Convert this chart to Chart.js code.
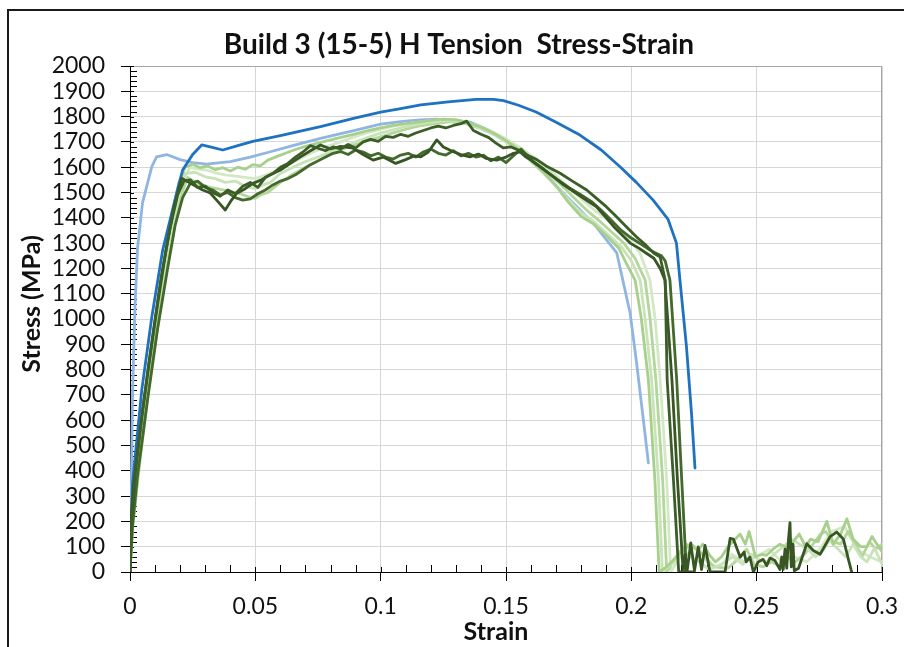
<!DOCTYPE html>
<html lang="en">
<head>
    <meta charset="UTF-8">
    <title>Build 3 (15-5) H Tension Stress-Strain</title>
    <style>
        html, body {
            margin: 0;
            padding: 0;
            background: #fff;
            overflow: hidden;
        }
        .frame {
            position: absolute;
            left: 7px;
            top: 9px;
            width: 1200px;
            height: 1200px;
            border: 2px solid #1a1a1a;
        }
        #chart {
            position: absolute;
            left: 0;
            top: 0;
        }
    </style>
    <script src="https://cdn.jsdelivr.net/npm/chart.js"></script>
</head>
<body>
    <div class="frame"></div>
    <canvas id="chart" width="904" height="647"></canvas>

    <script>
        // Axis ticks
        const strainTicks = [0, 0.05, 0.1, 0.15, 0.2, 0.25, 0.3];
        const stressTicks = [0, 100, 200, 300, 400, 500, 600, 700, 800, 900, 1000,
            1100, 1200, 1300, 1400, 1500, 1600, 1700, 1800, 1900, 2000];

        // Specimen H1 (dark blue)
        const h1Strain = [0, 0.001, 0.0047, 0.0087, 0.013, 0.0186, 0.021, 0.025, 0.0286, 0.032,
            0.037, 0.043, 0.049, 0.06, 0.076, 0.09, 0.1, 0.108, 0.116, 0.127, 0.138, 0.145,
            0.149, 0.155, 0.162, 0.17, 0.1795, 0.188, 0.1955, 0.202, 0.2087, 0.2146, 0.218,
            0.2194, 0.222, 0.224, 0.2254];
        const h1Stress = [0, 350, 720, 1008, 1270, 1498, 1589, 1650, 1688, 1680,
            1668, 1685, 1702, 1725, 1760, 1795, 1818, 1832, 1846, 1858, 1868, 1868,
            1863, 1845, 1818, 1778, 1727, 1668, 1602, 1540, 1470, 1395, 1300,
            1154, 890, 628, 411];

        // Specimen H2 (light blue)
        const h2Strain = [0, 0.0005, 0.001, 0.002, 0.003, 0.005, 0.0087, 0.0106, 0.0146, 0.02,
            0.025, 0.0306, 0.04, 0.048, 0.056, 0.066, 0.076, 0.088, 0.1, 0.108, 0.1157,
            0.1224, 0.13, 0.1356, 0.142, 0.149, 0.1596, 0.1716, 0.1849, 0.1942, 0.1995,
            0.2021, 0.2048, 0.2068];
        const h2Stress = [0, 300, 700, 1050, 1280, 1460, 1602, 1641, 1650, 1630,
            1618, 1612, 1622, 1640, 1661, 1688, 1714, 1742, 1770, 1780, 1787,
            1790, 1785, 1778, 1752, 1714, 1641, 1510, 1378, 1261, 1024,
            826, 601, 431];

        // Specimen H3 (dark green, highest peak)
        const h3Strain = [0, 0.0006, 0.002, 0.005, 0.009, 0.0125, 0.016, 0.019, 0.0215, 0.024,
            0.027, 0.03, 0.033, 0.036, 0.039, 0.042, 0.045, 0.048, 0.051, 0.054, 0.057,
            0.06, 0.063, 0.066, 0.069, 0.072, 0.075, 0.078, 0.081, 0.084, 0.087, 0.09,
            0.093, 0.096, 0.099, 0.102, 0.105, 0.108, 0.111, 0.114, 0.117, 0.12, 0.123,
            0.126, 0.129, 0.132, 0.1343, 0.137, 0.14, 0.143, 0.146, 0.149, 0.152, 0.1556,
            0.159, 0.1623, 0.166, 0.1716, 0.176, 0.1822, 0.186, 0.19, 0.194, 0.198, 0.202,
            0.206, 0.209, 0.2115, 0.2135, 0.2143, 0.2168, 0.2189, 0.2205, 0.2225, 0.2245];
        const h3Stress = [0, 180, 380, 640, 930, 1170, 1360, 1490, 1545, 1550,
            1520, 1525, 1500, 1485, 1510, 1495, 1525, 1540, 1520, 1560, 1575,
            1600, 1615, 1640, 1660, 1685, 1675, 1665, 1680, 1672, 1690, 1676,
            1700, 1710, 1702, 1722, 1718, 1730, 1722, 1735, 1745, 1755, 1762,
            1755, 1765, 1772, 1782, 1745, 1730, 1718, 1695, 1676, 1680, 1665,
            1645, 1630, 1605, 1576, 1548, 1510, 1478, 1444, 1405, 1365, 1325,
            1290, 1260, 1245, 1154, 759, 364, 0, 0, 0, 0];

        // Specimen H4 (dark green, lower plateau)
        const h4Strain = [0, 0.0005, 0.0015, 0.004, 0.0075, 0.011, 0.0145, 0.0175, 0.0206, 0.0235,
            0.0266, 0.029, 0.032, 0.035, 0.038, 0.0405, 0.0426, 0.046, 0.049, 0.052, 0.056,
            0.06, 0.064, 0.068, 0.072, 0.076, 0.08, 0.084, 0.089, 0.093, 0.097, 0.101,
            0.106, 0.11, 0.1135, 0.116, 0.119, 0.1224, 0.125, 0.129, 0.132, 0.1356, 0.139,
            0.142, 0.1463, 0.15, 0.153, 0.1556, 0.158, 0.16, 0.164, 0.169, 0.173, 0.178,
            0.182, 0.186, 0.19, 0.193, 0.1965, 0.1995, 0.203, 0.206, 0.209, 0.2115, 0.2134,
            0.2162, 0.2184, 0.2207, 0.2215, 0.2222, 0.2237, 0.2252, 0.2267, 0.228, 0.2294,
            0.2314, 0.2374, 0.2394, 0.2407, 0.2434, 0.245, 0.2458, 0.2473, 0.2487, 0.2506,
            0.2526, 0.254, 0.2553, 0.2573, 0.2593, 0.26, 0.2606, 0.2613, 0.262, 0.2627,
            0.2633, 0.2638, 0.2645, 0.265, 0.2667, 0.27, 0.2726, 0.2753, 0.2793, 0.2819,
            0.2846, 0.2866, 0.2879];
        const h4Stress = [0, 220, 350, 560, 820, 1060, 1280, 1440, 1556, 1540,
            1523, 1510, 1498, 1465, 1431, 1470, 1497, 1515, 1536, 1548, 1570,
            1589, 1615, 1641, 1665, 1688, 1672, 1682, 1675, 1650, 1628, 1640,
            1615, 1630, 1645, 1641, 1660, 1708, 1680, 1661, 1650, 1641, 1652,
            1635, 1628, 1640, 1655, 1661, 1640, 1628, 1600, 1562, 1530, 1497,
            1470, 1444, 1400, 1365, 1330, 1300, 1280, 1260, 1240, 1200, 1154,
            759, 364, 0, 70, 0, 115, 5, 99, 10, 105,
            0, 0, 133, 130, 59, 79, 40, 59, 0, 40,
            50, 25, 55, 45, 10, 60, 10, 90, 15, 130,
            195, 20, 110, 5, 15, 112, 85, 70, 140, 158,
            130, 50, 0];

        // Specimen H5 (dark green, lower plateau)
        const h5Strain = [0, 0.001, 0.003, 0.007, 0.011, 0.015, 0.018, 0.021, 0.024, 0.027,
            0.03, 0.033, 0.036, 0.039, 0.042, 0.045, 0.048, 0.051, 0.054, 0.057, 0.06,
            0.063, 0.066, 0.069, 0.072, 0.075, 0.078, 0.081, 0.084, 0.087, 0.09, 0.093,
            0.096, 0.099, 0.102, 0.105, 0.108, 0.111, 0.114, 0.117, 0.12, 0.123, 0.126,
            0.129, 0.132, 0.135, 0.138, 0.141, 0.144, 0.147, 0.15, 0.153, 0.156, 0.158,
            0.161, 0.165, 0.17, 0.175, 0.18, 0.184, 0.188, 0.192, 0.196, 0.2, 0.204,
            0.207, 0.2095, 0.212, 0.2135, 0.2154, 0.2181, 0.2201, 0.222];
        const h5Stress = [0, 180, 380, 680, 960, 1200, 1370, 1480, 1535, 1545,
            1520, 1510, 1490, 1500, 1480, 1470, 1475, 1495, 1510, 1530, 1545,
            1555, 1570, 1590, 1610, 1625, 1640, 1655, 1662, 1650, 1668, 1660,
            1645, 1655, 1640, 1632, 1648, 1655, 1640, 1660, 1672, 1655, 1648,
            1665, 1645, 1655, 1640, 1648, 1625, 1640, 1618, 1645, 1672, 1650,
            1620, 1590, 1555, 1520, 1490, 1465, 1430, 1390, 1350, 1320, 1295,
            1275, 1262, 1250, 1230, 1154, 759, 364, 0];

        // Specimen H6 (light green)
        const h6Strain = [0, 0.0006, 0.003, 0.0065, 0.0105, 0.014, 0.017, 0.0195, 0.022, 0.025,
            0.028, 0.031, 0.034, 0.037, 0.04, 0.043, 0.046, 0.049, 0.052, 0.055, 0.058,
            0.062, 0.066, 0.07, 0.075, 0.08, 0.085, 0.09, 0.095, 0.1, 0.105, 0.11,
            0.115, 0.12, 0.125, 0.13, 0.135, 0.14, 0.145, 0.15, 0.155, 0.16, 0.165,
            0.17, 0.175, 0.18, 0.185, 0.19, 0.195, 0.198, 0.2015, 0.204, 0.2068, 0.2094,
            0.2111, 0.214, 0.218, 0.2215, 0.224, 0.2265, 0.2285, 0.231, 0.2335, 0.236,
            0.2385, 0.2434, 0.2455, 0.247, 0.2495, 0.252, 0.254, 0.2565, 0.2593, 0.2625,
            0.267, 0.2695, 0.2715, 0.2745, 0.278, 0.2805, 0.2835, 0.286, 0.2885, 0.2915,
            0.294, 0.296, 0.298, 0.3];
        const h6Stress = [0, 150, 420, 720, 1000, 1250, 1420, 1540, 1600, 1612,
            1598, 1605, 1590, 1598, 1585, 1600, 1592, 1610, 1605, 1628, 1640,
            1655, 1670, 1682, 1695, 1708, 1720, 1732, 1745, 1755, 1765, 1772,
            1778, 1785, 1790, 1788, 1775, 1758, 1735, 1705, 1670, 1625, 1580,
            1525, 1460, 1405, 1375, 1330, 1280, 1220, 1154, 1000, 759, 364,
            0, 20, 60, 95, 110, 85, 110, 70, 40, 60,
            100, 150, 110, 160, 60, 70, 66, 90, 110, 95,
            150, 100, 130, 120, 200, 110, 150, 210, 130, 100,
            100, 140, 110, 80];

        // Specimen H7 (pale green)
        const h7Strain = [0, 0.0008, 0.0035, 0.007, 0.011, 0.0145, 0.0175, 0.02, 0.022, 0.026,
            0.03, 0.034, 0.038, 0.042, 0.046, 0.05, 0.053, 0.056, 0.06, 0.065, 0.07,
            0.075, 0.08, 0.085, 0.09, 0.095, 0.1, 0.105, 0.11, 0.115, 0.12, 0.127,
            0.133, 0.138, 0.143, 0.148, 0.153, 0.158, 0.163, 0.168, 0.173, 0.178, 0.18,
            0.185, 0.19, 0.196, 0.2, 0.2035, 0.2055, 0.2081, 0.2108, 0.2124, 0.217,
            0.2205, 0.2235, 0.227, 0.231, 0.236, 0.2405, 0.2445, 0.248, 0.2515, 0.254,
            0.2575, 0.2606, 0.264, 0.267, 0.2705, 0.2735, 0.2765, 0.279, 0.2825, 0.2855,
            0.2885, 0.2915, 0.294, 0.297, 0.3];
        const h7Stress = [0, 160, 430, 720, 1000, 1230, 1400, 1510, 1575, 1580,
            1562, 1555, 1540, 1545, 1525, 1515, 1530, 1540, 1575, 1600, 1622,
            1640, 1660, 1680, 1700, 1718, 1735, 1748, 1760, 1770, 1778, 1785,
            1778, 1762, 1740, 1712, 1680, 1640, 1595, 1545, 1492, 1440, 1420,
            1385, 1340, 1285, 1230, 1154, 1000, 759, 364, 0, 40,
            90, 60, 40, 10, 30, 60, 30, 70, 45, 40,
            75, 100, 130, 110, 90, 60, 85, 125, 90, 60,
            110, 60, 40, 95, 30];

        // Specimen H8 (light green)
        const h8Strain = [0, 0.001, 0.004, 0.0075, 0.0115, 0.015, 0.018, 0.0205, 0.023, 0.027,
            0.032, 0.036, 0.04, 0.044, 0.048, 0.05, 0.052, 0.055, 0.06, 0.065, 0.07,
            0.075, 0.08, 0.085, 0.09, 0.095, 0.1, 0.105, 0.11, 0.115, 0.12, 0.128,
            0.134, 0.14, 0.146, 0.152, 0.157, 0.162, 0.167, 0.172, 0.177, 0.182, 0.187,
            0.192, 0.197, 0.2015, 0.2055, 0.2075, 0.2098, 0.2125, 0.2141, 0.2185, 0.222,
            0.226, 0.2295, 0.233, 0.2385, 0.2425, 0.246, 0.249, 0.2525, 0.256, 0.2595,
            0.2625, 0.2655, 0.269, 0.2725, 0.2755, 0.2775, 0.2805, 0.2835, 0.2865, 0.2895,
            0.292, 0.295, 0.2975, 0.3];
        const h8Stress = [0, 170, 440, 730, 1000, 1220, 1380, 1490, 1560, 1535,
            1520, 1512, 1505, 1495, 1480, 1477, 1490, 1500, 1540, 1572, 1600,
            1625, 1650, 1672, 1690, 1706, 1720, 1736, 1750, 1762, 1770, 1780,
            1772, 1752, 1725, 1690, 1655, 1618, 1575, 1530, 1480, 1432, 1390,
            1345, 1300, 1240, 1154, 1000, 759, 364, 0, 70, 110,
            90, 60, 20, 15, 50, 90, 30, 20, 40, 20,
            60, 40, 70, 110, 150, 160, 120, 110, 160, 110,
            60, 120, 90, 110];

        // Specimen H9 (pale green)
        const h9Strain = [0, 0.0007, 0.003, 0.0068, 0.0108, 0.0142, 0.0172, 0.02, 0.024, 0.027,
            0.03, 0.034, 0.038, 0.042, 0.046, 0.05, 0.054, 0.058, 0.062, 0.067, 0.072,
            0.078, 0.084, 0.09, 0.096, 0.102, 0.108, 0.114, 0.12, 0.126, 0.132, 0.138,
            0.144, 0.15, 0.156, 0.162, 0.168, 0.174, 0.18, 0.186, 0.192, 0.198, 0.2035,
            0.2074, 0.2095, 0.2115, 0.2141, 0.2157, 0.2195, 0.2235, 0.227, 0.231, 0.235,
            0.24, 0.245, 0.25, 0.255, 0.26, 0.265, 0.27, 0.275, 0.28, 0.285, 0.29,
            0.295, 0.3];
        const h9Stress = [0, 150, 410, 700, 990, 1230, 1410, 1530, 1600, 1592,
            1590, 1578, 1570, 1565, 1560, 1555, 1568, 1585, 1605, 1630, 1655,
            1680, 1700, 1722, 1740, 1755, 1768, 1776, 1784, 1788, 1782, 1766,
            1742, 1712, 1675, 1632, 1585, 1530, 1475, 1425, 1380, 1330, 1260,
            1154, 1000, 759, 364, 0, 60, 110, 90, 30, 20,
            70, 40, 60, 90, 40, 60, 40, 90, 160, 180, 90,
            60, 40];

        function pairs(xs, ys) {
            return xs.map((x, i) => ({ x: x, y: ys[i] }));
        }

        function series(label, xs, ys, color) {
            return {
                label: label,
                data: pairs(xs, ys),
                borderColor: color,
                backgroundColor: color,
                borderWidth: 2.8,
                borderJoinStyle: 'round',
                borderCapStyle: 'round',
                showLine: true,
                pointRadius: 0,
                pointHoverRadius: 0,
                fill: false
            };
        }

        // Listed top layer first (Chart.js paints index 0 last)
        const datasets = [
            series('H3', h3Strain, h3Stress, '#3b5d26'),
            series('H4', h4Strain, h4Stress, '#375623'),
            series('H5', h5Strain, h5Stress, '#44692d'),
            series('H1', h1Strain, h1Stress, '#1f72c0'),
            series('H6', h6Strain, h6Stress, '#a8d08d'),
            series('H7', h7Strain, h7Stress, '#c9e3b8'),
            series('H8', h8Strain, h8Stress, '#b3d69b'),
            series('H9', h9Strain, h9Stress, '#d3e8c5'),
            series('H2', h2Strain, h2Stress, '#8fb5e3')
        ];

        // Minor/inner tick marks, plot border and the chart texts
        const decorations = {
            id: 'decorations',
            beforeDatasetsDraw(chart) {
                const { ctx, chartArea } = chart;
                const xs = chart.scales.x;
                const ys = chart.scales.y;
                ctx.save();
                ctx.strokeStyle = '#a6a6a6';
                ctx.lineWidth = 1;
                ctx.beginPath();
                ctx.moveTo(chartArea.left, chartArea.top + 0.5);
                ctx.lineTo(chartArea.right - 0.5, chartArea.top + 0.5);
                ctx.lineTo(chartArea.right - 0.5, chartArea.bottom);
                ctx.stroke();

                ctx.strokeStyle = '#000';
                ctx.beginPath();
                for (let v = 0; v <= 2000; v += 20) {
                    const y = Math.round(ys.getPixelForValue(v)) + 0.5;
                    const len = v % 100 === 0 ? 4 : 7;
                    ctx.moveTo(chartArea.left, y);
                    ctx.lineTo(chartArea.left + len, y);
                }
                for (let i = 0; i <= 30; i++) {
                    const x = Math.round(xs.getPixelForValue(i / 100)) + 0.5;
                    const len = i % 5 === 0 ? 5 : 7;
                    ctx.moveTo(x, chartArea.bottom);
                    ctx.lineTo(x, chartArea.bottom - len);
                }
                ctx.stroke();
                ctx.restore();
            },
            afterDraw(chart) {
                const { ctx } = chart;
                ctx.save();
                ctx.fillStyle = '#111';
                ctx.textAlign = 'center';
                ctx.textBaseline = 'middle';
                ctx.font = 'bold 28px Lato';
                ctx.fillText('Build 3 (15-5) H Tension  Stress-Strain', 459, 45);
                ctx.font = 'bold 25px Lato';
                ctx.fillText('Strain', 496, 632);
                ctx.translate(32, 304);
                ctx.rotate(-Math.PI / 2);
                ctx.fillText('Stress (MPa)', 0, 0);
                ctx.restore();
            }
        };

        new Chart(document.getElementById('chart'), {
            type: 'scatter',
            data: { datasets: datasets },
            plugins: [decorations],
            options: {
                responsive: false,
                animation: false,
                devicePixelRatio: 1,
                layout: {
                    autoPadding: false,
                    padding: { left: 0, top: 66, right: 22, bottom: 0 }
                },
                plugins: {
                    legend: { display: false },
                    tooltip: { enabled: false },
                    title: { display: false }
                },
                scales: {
                    x: {
                        type: 'linear',
                        min: strainTicks[0],
                        max: strainTicks[strainTicks.length - 1],
                        afterFit: (scale) => {
                            scale.height = 75;
                            scale.paddingLeft = 0;
                            scale.paddingRight = 0;
                        },
                        afterBuildTicks: (scale) => {
                            scale.ticks = strainTicks.map(v => ({ value: v }));
                        },
                        ticks: {
                            color: '#111',
                            font: { family: 'Lato', size: 23 },
                            padding: 12,
                            maxRotation: 0,
                            callback: (v) => String(Number(v.toFixed(2)))
                        },
                        grid: {
                            color: '#d6d6d6',
                            tickColor: '#000',
                            tickLength: 9
                        },
                        border: { color: '#000', width: 1 }
                    },
                    y: {
                        type: 'linear',
                        min: stressTicks[0],
                        max: stressTicks[stressTicks.length - 1],
                        afterFit: (scale) => {
                            scale.width = 130;
                            scale.paddingTop = 0;
                            scale.paddingBottom = 0;
                        },
                        afterBuildTicks: (scale) => {
                            scale.ticks = stressTicks.map(v => ({ value: v }));
                        },
                        ticks: {
                            color: '#111',
                            font: { family: 'Lato', size: 23 },
                            padding: 16,
                            autoSkip: false,
                            callback: (v) => String(v)
                        },
                        grid: {
                            color: '#d6d6d6',
                            tickColor: '#000',
                            tickLength: 9
                        },
                        border: { color: '#000', width: 1 }
                    }
                }
            }
        });
    </script>
</body>
</html>
